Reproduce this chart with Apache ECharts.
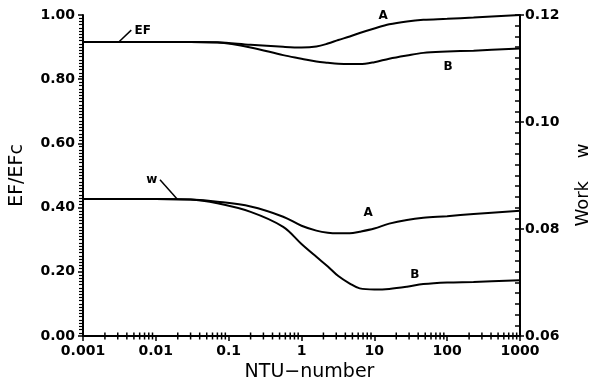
<!DOCTYPE html>
<html>
<head>
<meta charset="utf-8">
<script src="https://cdn.jsdelivr.net/npm/echarts@6/dist/echarts.min.js"></script>
<style>
  html, body { margin: 0; padding: 0; background: #fff; }
  #chart { width: 591px; height: 379px; }
</style>
</head>
<body>
<div id="chart"></div>
<script>
const ntu = [0.001, 0.01, 0.03, 0.07, 0.2, 0.56, 1, 1.6, 2.3, 3.2, 4.6, 6.3, 10, 16, 28, 47, 100, 230, 1000];
// EF/EFc (left axis)
const efA = [0.916, 0.916, 0.916, 0.915, 0.907, 0.901, 0.899, 0.902, 0.911, 0.922, 0.933, 0.944, 0.958, 0.971, 0.980, 0.985, 0.988, 0.992, 1.000];
const efB = [0.916, 0.916, 0.916, 0.914, 0.899, 0.875, 0.864, 0.855, 0.851, 0.848, 0.847, 0.847, 0.853, 0.864, 0.874, 0.882, 0.886, 0.889, 0.896];
// Work w (right axis)
const wA = [0.0856, 0.0856, 0.0855, 0.0851, 0.0842, 0.0823, 0.0806, 0.0797, 0.0793, 0.0792, 0.0792, 0.0795, 0.0801, 0.0810, 0.0817, 0.0821, 0.0824, 0.0828, 0.0834];
const wB = [0.0856, 0.0856, 0.0855, 0.0848, 0.0832, 0.0804, 0.0772, 0.0748, 0.0730, 0.0712, 0.0698, 0.0689, 0.0687, 0.0688, 0.0692, 0.0697, 0.0700, 0.0701, 0.0704];

const xLabels = ['0.001', '0.01', '0.1', '1', '10', '100', '1000'];
// 2..9 ticks inside each decade
const minorTicks = [];
for (let d = -3; d < 3; d++) {
    for (let k = 2; k <= 9; k++) minorTicks.push([+(k * Math.pow(10, d)).toPrecision(3), 0]);
}

const pair = (ys) => ntu.map((x, i) => [x, ys[i]]);
const FONT = 'DejaVu Sans';

const chart = echarts.init(document.getElementById('chart'), null, { renderer: 'canvas' });

const lineBase = {
    type: 'line',
    smooth: 0.35,
    showSymbol: false,
    lineStyle: { color: '#000', width: 2 },
    silent: true
};
const annLabel = {
    show: true, position: 'inside', color: '#000',
    fontFamily: FONT, fontWeight: 'bold', fontSize: 12
};
const markText = (name, coord) => ({
    name, coord, symbol: 'circle', symbolSize: 1,
    itemStyle: { color: 'rgba(0,0,0,0)' },
    label: Object.assign({ formatter: name }, annLabel)
});

const option = {
    animation: false,
    backgroundColor: '#fff',
    grid: { left: 83, right: 71, top: 15, bottom: 43, outerBoundsMode: 'none', containLabel: false },
    xAxis: {
        type: 'log', logBase: 10, min: 0.001, max: 1000, position: 'bottom',
        name: 'NTU\u2212number', nameLocation: 'middle', nameGap: 17,
        nameTextStyle: { fontFamily: FONT, fontSize: 19, color: '#000', padding: [0, 0, 0, 16], verticalAlign: 'top' },
        axisLine: { lineStyle: { color: '#000', width: 2 } },
        axisTick: { length: 5, lineStyle: { color: '#000', width: 1.5 } },
        axisLabel: {
            color: '#000', fontFamily: FONT, fontWeight: 'bold', fontSize: 14, margin: 8,
            formatter: (v, i) => xLabels[i]
        },
        splitLine: { show: false }
    },
    yAxis: [{
        type: 'value', min: 0, max: 1, interval: 0.2, position: 'left',
        name: 'EF/EFc', nameLocation: 'middle', nameGap: 56, nameRotate: 90,
        nameTextStyle: { fontFamily: FONT, fontSize: 19, color: '#000' },
        axisLine: { show: true, lineStyle: { color: '#000', width: 2 } },
        axisTick: { show: true, length: 5, lineStyle: { color: '#000', width: 1.5 } },
        minorTick: { show: true, splitNumber: 20, length: 4, lineStyle: { color: '#000', width: 1.2 } },
        axisLabel: {
            color: '#000', fontFamily: FONT, fontWeight: 'bold', fontSize: 14, margin: 8,
            formatter: v => v.toFixed(2)
        },
        splitLine: { show: false }
    }, {
        type: 'value', min: 0.06, max: 0.12, interval: 0.02, position: 'right',
        name: 'Work    w', nameLocation: 'middle', nameGap: 54, nameRotate: 90,
        nameTextStyle: { fontFamily: FONT, fontSize: 18, color: '#000', padding: [0, 19, 0, 0] },
        axisLine: { show: true, lineStyle: { color: '#000', width: 2 } },
        axisTick: { show: true, inside: true, length: 5, lineStyle: { color: '#000', width: 1.5 } },
        minorTick: { show: true, splitNumber: 10, length: 5, lineStyle: { color: '#000', width: 1.5 } },
        axisLabel: {
            color: '#000', fontFamily: FONT, fontWeight: 'bold', fontSize: 14, margin: 5,
            formatter: v => v.toFixed(2)
        },
        splitLine: { show: false }
    }, {
        // outward major ticks on the right axis
        type: 'value', min: 0.06, max: 0.12, interval: 0.02, position: 'right',
        axisLine: { show: false },
        axisTick: { show: true, length: 4, lineStyle: { color: '#000', width: 1.5 } },
        axisLabel: { show: false },
        splitLine: { show: false }
    }],
    series: [
        Object.assign({}, lineBase, {
            name: 'EF A', yAxisIndex: 0, data: pair(efA),
            markPoint: {
                silent: true,
                data: [
                    markText('A', [13.2, 0.996]),
                    markText('B', [103, 0.838]),
                    markText('EF', [0.0066, 0.95])
                ]
            },
            markLine: {
                silent: true, symbol: ['none', 'none'],
                label: { show: false },
                lineStyle: { color: '#000', width: 1.5, type: 'solid', curveness: -0.8 },
                data: [[{ coord: [0.0031, 0.916] }, { coord: [0.0046, 0.953] }]]
            }
        }),
        Object.assign({}, lineBase, { name: 'EF B', yAxisIndex: 0, data: pair(efB) }),
        Object.assign({}, lineBase, {
            name: 'w A', yAxisIndex: 1, data: pair(wA),
            markPoint: {
                silent: true,
                data: [
                    markText('A', [8.2, 0.083]),
                    markText('B', [36, 0.0714]),
                    markText('w', [0.0088, 0.0892])
                ]
            },
            markLine: {
                silent: true, symbol: ['none', 'none'],
                label: { show: false },
                lineStyle: { color: '#000', width: 1.5, type: 'solid', curveness: -0.8 },
                data: [[{ coord: [0.0114, 0.0892] }, { coord: [0.0196, 0.0856] }]]
            }
        }),
        Object.assign({}, lineBase, { name: 'w B', yAxisIndex: 1, data: pair(wB) }),
        {
            // minor log ticks on the x axis
            type: 'scatter', name: 'minorX', xAxisIndex: 0, yAxisIndex: 0,
            silent: true, clip: false, z: 10,
            data: minorTicks,
            symbol: 'rect', symbolSize: [1.5, 7],
            itemStyle: { color: '#000', opacity: 1 }
        }
    ]
};
chart.setOption(option);
</script>
</body>
</html>
